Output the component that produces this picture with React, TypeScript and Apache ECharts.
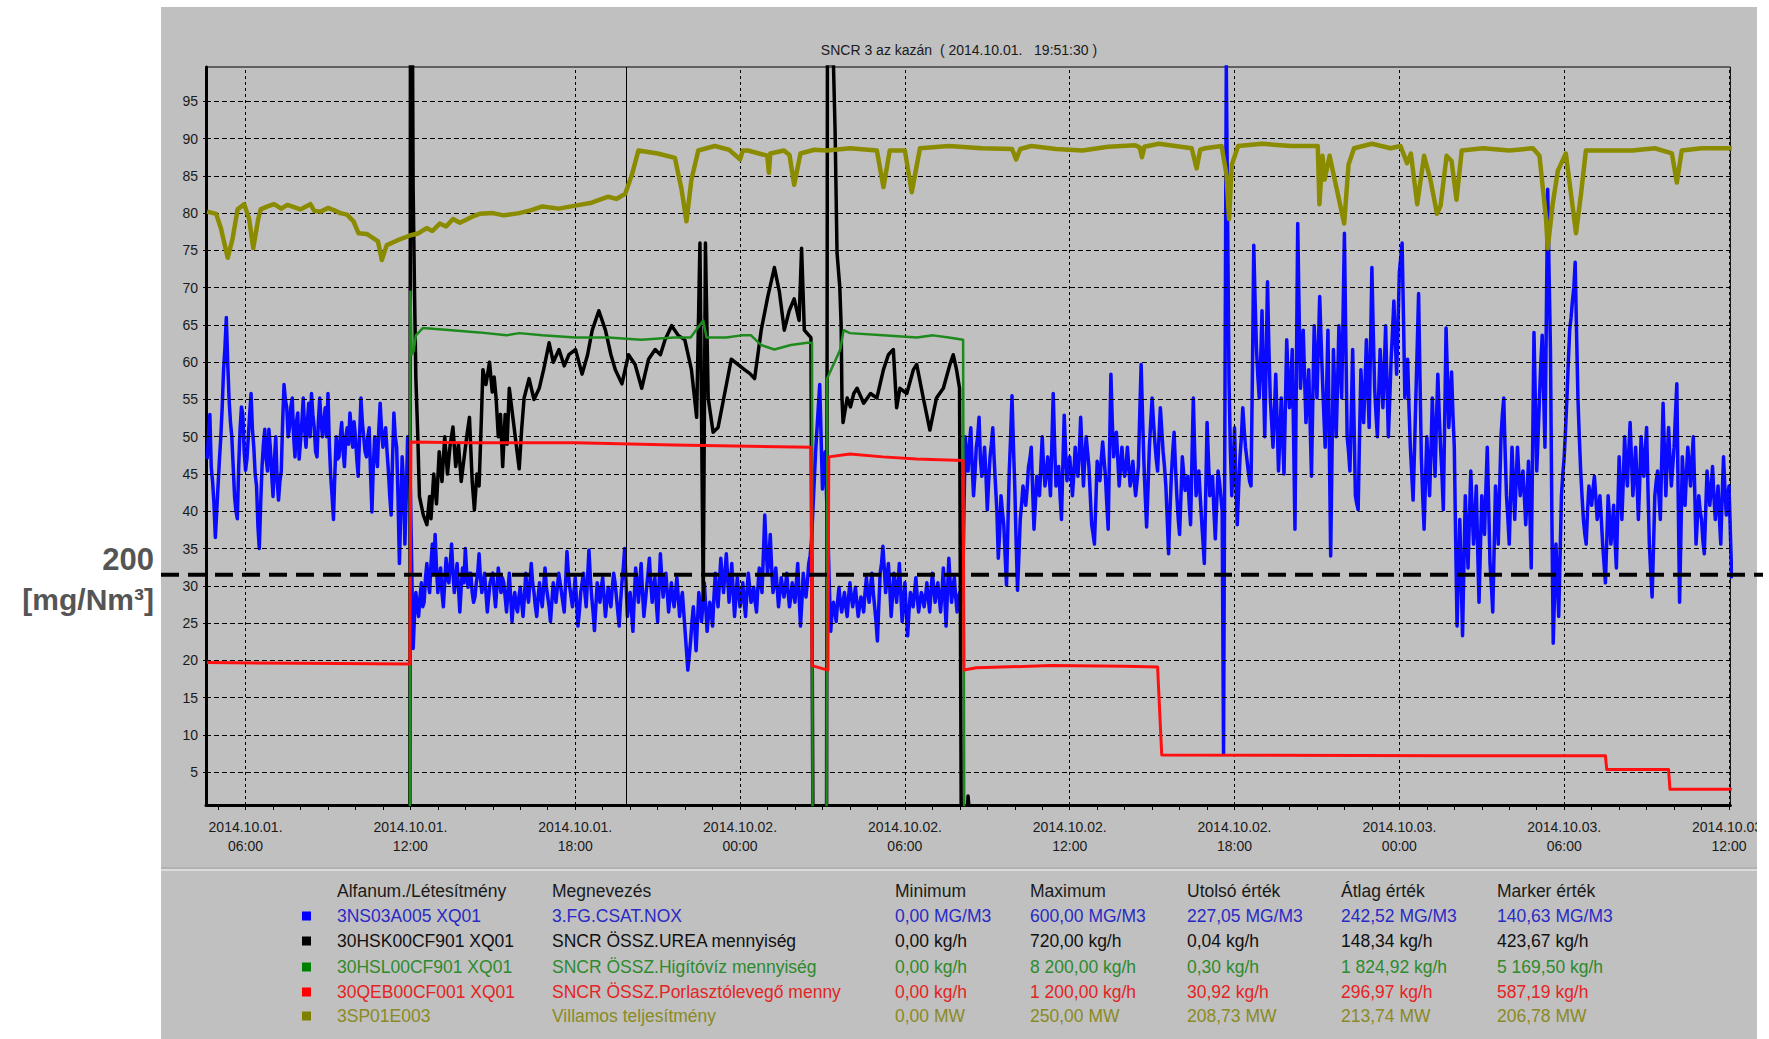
import React, { useEffect, useRef } from 'react';
import * as echarts from 'echarts';

// ---------- axis / layout constants ----------
const X_MIN = 4.56;
const X_MAX = 60.05;
const Y_MIN = 0.6;
const Y_MAX = 99.6;
const HOUR_TICKS = [5, 6, 7, 8, 9, 10, 11, 12, 13, 14, 15, 16, 17, 18, 19, 20, 21, 22, 23, 24, 25, 26, 27, 28, 29, 30, 31, 32, 33, 34, 35, 36, 37, 38, 39, 40, 41, 42, 43, 44, 45, 46, 47, 48, 49, 50, 51, 52, 53, 54, 55, 56, 57, 58, 59, 60];
const LABEL_HOURS = [6, 12, 18, 24, 30, 36, 42, 48, 54, 60];
const GRID_HOURS = [6, 12, 18, 24, 30, 36, 42, 48, 54, 60];
const Y_TICKS = [5, 10, 15, 20, 25, 30, 35, 40, 45, 50, 55, 60, 65, 70, 75, 80, 85, 90, 95];
const MARKER_HOUR = 19.858;
const LIMIT_VALUE = 31.5;
const TITLE = 'SNCR 3 az kazán  ( 2014.10.01.   19:51:30 )';

// ---------- blue series (NOX): readings every 0.1 h plus in-between readings ----------
const BLUE_STEP = 0.1;
const BLUE_A_START = 4.6;
const BLUE_A = [
  47, 53, 44, 36.5, 43.5, 50, 59, 66, 55, 50,
  42, 39, 51, 53, 45.5, 50, 55.8, 48.6, 43.4, 35,
  46, 51, 45.4, 48.6, 42, 50, 41.5, 45.4, 57, 53.9,
  51.2, 55.2, 47.3, 53.2, 49.3, 55.2, 48.6, 54.5, 55.8, 51.2,
  47.3, 55.2, 50, 53.9, 55.8, 44.7, 38.9, 50, 47.3, 51.9,
  46, 51.2, 53.2, 48.6, 50, 44.7, 55.2, 50, 47.3, 51.2,
  39.9, 50, 46, 54.5, 48.6, 51.2, 45.4, 39.5, 53.2, 48.6,
  33, 47.3, 35.6, 50, 43,
];
const BLUE_A_MID_START = 4.65;
const BLUE_A_MID = [
  50, 46, 41, 40, 47, 54, 62, 60, 52, 46,
  40, 46, 54, 48, 47, 53, 51, 45, 38, 41,
  49, 47, 51, 45, 47, 44, 44, 52, 55, 50,
  54, 50, 52, 47, 52, 51, 52, 50, 53, 48,
  52, 52, 52, 50, 49, 42, 45, 47, 50, 48,
  50, 49, 51, 52, 47, 50, 52, 48, 50, 45,
  46, 48, 51, 51, 50, 48, 42, 47, 50, 42,
  40, 44, 42, 47,
];
const BLUE_B_START = 12.1;
const BLUE_B = [
  21.6, 29.1, 25.9, 30.4, 27.8, 33, 29.1, 35.6, 36.9,
  29.1, 32.4, 27.2, 33.7, 30.4, 35.6, 29.1, 33, 26.5, 32.4,
  35, 29.8, 31.7, 27.8, 30.4, 34.3, 29.1, 31.7, 26.5, 30.4,
  31.7, 27.2, 32.4, 29.1, 30.4, 26.5, 31.7, 25.2, 29.1, 26.5,
  29.8, 25.9, 31.7, 27.8, 33, 29.1, 25.9, 30.4, 27.2, 32.4,
  28.5, 25.2, 30.4, 27.8, 31.7, 29.1, 26.5, 34.6, 29.8, 27.2,
  31.1, 24.6, 29.1, 31.7, 27.2, 34.8, 28.5, 24, 30.4, 27.8,
  31.1, 25.9, 29.8, 27.2, 31.7, 28.5, 24.6, 30.4, 35, 25.9,
  29.1, 23.9, 32.4, 27.8, 33, 25.9, 29.8, 33.7, 27.8, 31.1,
  25.2, 34.3, 28.5, 31.7, 26.5, 30.4, 27.2, 31.1, 25.9, 29.1,
  23.9, 18.7, 22.6, 27.2, 21.3, 29.1, 25.2, 30.4, 23.9, 27.8,
  24.6, 31.7, 27.2, 33.7, 29.1, 34.3, 27.8, 33, 25.9, 31.1,
  27.2, 30.4, 25.9, 31.7, 27.8, 29.8, 26.5, 32.4, 29.1, 39.5,
  31.7, 36.9, 29.1, 32.4, 27.2, 31.1, 28.5, 31.7, 27.2, 30.4,
  27.8, 33, 24.6, 31.7, 28.5, 33,
];
const BLUE_B_MID_START = 12.15;
const BLUE_B_MID = [
  26, 27.2, 28.5, 27.2, 31.1, 30.4, 33, 31.7, 32.4,
  31.1, 29.1, 30.4, 31.1, 33, 31.7, 31.1, 29.8, 29.8, 30.4,
  31.7, 31.7, 29.1, 28.5, 31.7, 31.1, 30.4, 29.1, 28.5, 31.1,
  29.1, 29.8, 30.4, 31.1, 28.5, 29.1, 28.5, 27.8, 27.2, 28.5,
  27.8, 28.5, 29.1, 30.4, 30.4, 27.2, 28.5, 28.5, 29.8, 29.8,
  27.2, 27.8, 29.1, 29.8, 30.4, 27.8, 30.4, 31.7, 28.5, 29.1,
  27.8, 26.5, 30.4, 29.1, 31.1, 31.1, 26.5, 27.2, 29.1, 29.8,
  28.5, 27.8, 28.5, 29.8, 30.4, 26.5, 27.8, 32.4, 30.4, 27.8,
  26.5, 28.5, 30.4, 30.4, 29.1, 27.8, 31.7, 30.4, 29.8, 27.8,
  29.8, 31.1, 30.4, 29.1, 28.5, 28.5, 29.1, 28.5, 27.8, 26.5,
  21.3, 20.6, 25.2, 24.6, 25.2, 27.2, 27.8, 27.2, 25.9, 26.5,
  28.5, 29.1, 30.4, 31.1, 31.7, 31.1, 30.4, 29.1, 28.5, 29.1,
  28.5, 27.8, 29.1, 29.8, 28.5, 27.8, 29.8, 30.4, 34.3, 35,
  33.7, 32.4, 30.4, 29.8, 29.1, 29.8, 29.8, 29.1, 28.5, 29.1,
  30.4, 28.5, 27.8, 29.8, 30.4, 34,
];
const BLUE_GAP_START = 26.6;
const BLUE_GAP = [36, 44, 51, 57, 43, 48, 37];
const BLUE_GAP_MID_START = 26.65;
const BLUE_GAP_MID = [40, 48, 54, 50, 46, 42, 30];
const BLUE_C_START = 27.3;
const BLUE_C = [
  23.9, 27.8, 25.2, 29.8, 26.5, 29.1, 25.9,
  30.4, 27.2, 29.8, 25.9, 28.5, 26.5, 31.1, 27.8, 31.7, 27.2,
  22.6, 31.7, 35.3, 29.1, 33, 25.9, 31.7, 27.8, 33, 25.2,
  30.4, 23.3, 29.1, 27.2, 31.1, 26.5, 29.1, 27.2, 30.4, 26.5,
  31.7, 27.8, 30.4, 26.5, 32.4, 24.6, 33.7, 27.8, 31.1, 26.5,
  29.1, 27.8,
];
const BLUE_C_MID_START = 27.35;
const BLUE_C_MID = [
  26.5, 26.5, 27.8, 27.8, 27.8, 27.2, 28.5,
  28.5, 28.5, 27.8, 27.2, 27.8, 29.1, 29.1, 29.8, 29.1, 25.2,
  27.2, 33, 32.4, 31.1, 29.8, 28.5, 29.8, 30.4, 29.1, 27.8,
  26.5, 26.5, 28.5, 29.1, 28.5, 27.8, 28.5, 28.5, 28.5, 29.1,
  29.8, 29.1, 28.5, 29.1, 28.5, 29.1, 30.4, 29.8, 28.5, 28.5,
  28.5, 40,
];
const BLUE_D_START = 32.2;
const BLUE_D = [
  50, 45.4, 51.2, 42.1, 48.6, 52.6, 44.7, 48.6,
  40.2, 47.3, 51.2, 43.4, 33.7, 42.1, 38.2, 30.1, 45.4, 55.5,
  43.4, 29.4, 38.9, 43.4, 40.8, 46, 48.6, 37.6, 44.7, 42.1,
  50, 43.4, 47.3, 42.1, 55.8, 43.4, 46, 38.9, 52.9, 44.1,
  47.3, 42.1, 48.6, 44.7, 52.6, 43.4, 50, 46, 38.2, 35.6,
  46.7, 44.1, 49.3, 44.7, 37.6, 58.4, 47.3, 50.6, 43.4, 48.6,
  44.7, 48.6, 43.4, 46.7, 42.1, 46, 59.7, 46.7, 37.9, 48.6,
  55.2, 49.3, 45.4, 53.9, 48, 43.4, 34.3, 44.7, 50.6, 42.1,
  36.9, 47.3, 42.8, 44.7, 38.2, 55.2, 42.1, 45.4, 38.9, 33,
  51.9, 42.1, 44.7, 36.3, 45.4, 42.1, 7.5, 100, 57.1,
];
const BLUE_D_MID_START = 32.25;
const BLUE_D_MID = [
  47, 49, 46, 45, 50, 47, 46,
  45, 44, 49, 47, 40, 37, 40, 34, 38, 50, 49,
  36, 34, 41, 42, 43, 47, 43, 41, 43, 46,
  46, 45, 45, 49, 49, 45, 42, 46, 48, 46,
  45, 45, 46, 48, 48, 47, 48, 42, 37, 41,
  45, 47, 47, 41, 48, 52, 49, 47, 46, 46,
  46, 46, 45, 44, 44, 53, 53, 42, 43, 52,
  52, 47, 50, 51, 46, 39, 40, 48, 46, 39,
  42, 45, 44, 41, 47, 48, 44, 42, 36, 42,
  47, 43, 40, 41, 44, 40,
];
const BLUE_E_START = 41.9;
const BLUE_E = [
  42.1,
  51.2, 38.2, 47.3, 53.9, 48.6, 45.4, 43.4, 75.7, 61.7, 55.2,
  66.9, 50, 70.8, 55.2, 48.6, 58.4, 45.4, 55.2, 45, 63,
  53.9, 61.7, 37.6, 78.6, 56.5, 64.3, 51.9, 59, 44.7, 64.9,
  55.2, 68.8, 57.8, 48.6, 64.3, 34, 61.7, 50, 64.9, 55.2,
  77.3, 50, 45.4, 61.7, 42.1, 40.2, 59, 51.9, 63, 51.25,
  72.7, 56.5, 50, 61.7, 53.9, 64.9, 50, 60.4, 68.2, 58.4,
  72.1, 76, 55.2, 60.4, 48.6, 41.5, 55.2, 69.2, 47.3, 37.6,
  50, 42.1, 55.2, 44.7, 58.4, 48.6, 40.2, 64.6, 51.25, 58.7,
  48.6, 24.6, 38.9, 23.3, 42.1, 32.4, 45.4, 35.6, 43.4, 27.8,
  42.1, 36.9, 48.6, 33, 26.5, 43.4, 35.6, 50, 55.2, 42.1,
  35.6, 48.6, 38.9, 48.6, 42.1, 45.4, 38.2, 46.7, 32.4, 64,
  45.4, 55.2, 63.6, 48.6, 83.2, 61.7, 22.3, 35.6, 25.9, 42.1,
  47.3, 55.2, 64.3, 68.2, 73.4, 55.2, 45.4, 38.9, 35.6, 43.4,
  40.8, 44.7, 38.9, 42.1, 35.6, 30.4, 42.1, 35.6, 40.8, 32.4,
  47.3, 38.9, 50, 43.4, 51.9, 42.1, 48.6, 38.9, 50, 44.7,
  51.25, 35.6, 28.5, 42.1, 45.4, 38.9, 54.5, 42.1, 51.25, 43.4,
  48.6, 57.1, 27.8, 47.3, 40.8, 48.6, 43.4, 50, 35.6, 42.1,
  38.9, 34.3, 45.4, 40.8, 46, 38.9, 43.4, 35.6, 47.3, 39.5,
  43.4, 31,
];
const BLUE_E_MID_START = 41.85;
const BLUE_E_MID = [
  48, 46,
  44, 43, 50, 51, 47, 44, 58, 68, 58, 60,
  58, 60, 62, 52, 53, 52, 50, 50, 54, 58,
  57, 50, 58, 67, 60, 58, 55, 52, 55, 60,
  62, 63, 53, 56, 49, 48, 56, 57, 60, 66,
  63, 48, 53, 52, 41, 50, 55, 57, 57, 62,
  64, 53, 56, 58, 59, 57, 55, 64, 63, 65,
  74, 66, 58, 54, 45, 48, 62, 58, 42, 44,
  46, 48, 50, 52, 53, 45, 52, 58, 55, 53,
  36, 32, 31, 33, 37, 39, 40, 39, 35, 35,
  39, 43, 41, 30, 35, 40, 43, 53, 48, 39,
  42, 44, 44, 45, 44, 42, 42, 40, 48, 55,
  50, 60, 56, 66, 72, 40, 29, 31, 34, 45,
  51, 60, 66, 70, 64, 50, 42, 37, 40, 42,
  43, 42, 40, 39, 33, 36, 39, 38, 36, 40,
  43, 44, 46, 48, 47, 45, 44, 44, 47, 48,
  43, 32, 35, 44, 42, 47, 48, 47, 47, 46,
  53, 42, 37, 44, 45, 46, 47, 43, 39, 40,
  36, 40, 43, 43, 42, 41, 39, 42, 43, 42,
  37,
];

// ---------- other series as [hour, value] ----------
const BLACK = [
  [4.6, 0], [11.98, 0], [12.0, 100], [12.08, 100], [12.1, 83.5], [12.15, 69.5], [12.2, 57.8], [12.27, 50],
  [12.33, 42], [12.47, 39.5], [12.6, 38.2], [12.7, 42], [12.75, 39], [12.85, 45], [12.95, 41], [13.05, 48],
  [13.15, 44], [13.25, 50], [13.35, 45], [13.45, 49], [13.55, 51.3], [13.65, 46], [13.75, 49], [13.85, 44],
  [13.95, 47], [14.05, 50], [14.15, 52.6], [14.25, 44], [14.33, 40.2], [14.42, 45], [14.5, 43.4], [14.58, 52],
  [14.64, 59], [14.75, 57], [14.88, 60], [14.98, 56], [15.05, 58], [15.12, 55.2], [15.2, 50], [15.28, 53],
  [15.36, 46], [15.45, 53], [15.52, 49], [15.6, 56.5], [15.75, 52], [15.96, 45.7], [16.05, 51], [16.14, 55.2],
  [16.32, 57.8], [16.5, 55], [16.69, 56.5], [16.85, 59], [17.05, 62.6], [17.2, 60], [17.41, 61.7], [17.6, 59.5],
  [17.77, 61], [18.01, 61.7], [18.25, 58.4], [18.45, 61], [18.62, 64.3], [18.86, 66.9], [19.1, 64.3], [19.3, 61],
  [19.46, 59], [19.7, 57.1], [19.94, 61], [20.18, 59.7], [20.42, 56.5], [20.67, 60.4], [20.91, 61.7], [21.1, 61],
  [21.27, 63], [21.51, 64.9], [21.75, 63.6], [21.99, 63], [22.23, 59], [22.42, 52.6], [22.54, 76], [22.66, 28.1],
  [22.74, 76], [22.84, 55.2], [23.02, 50.6], [23.2, 51.25], [23.44, 55.8], [23.68, 60.4], [23.92, 59.7],
  [24.16, 59], [24.35, 58.5], [24.53, 57.8], [24.77, 64.3], [25.01, 68.8], [25.25, 72.7], [25.43, 69.5],
  [25.61, 64.3], [25.79, 66.9], [25.97, 68.5], [26.15, 65.6], [26.24, 75.3], [26.34, 64.3], [26.58, 63.3],
  [26.65, 0], [27.15, 0], [27.18, 100], [27.4, 100], [27.46, 91], [27.53, 74.7], [27.63, 70.1], [27.68, 64.9],
  [27.71, 55.2], [27.75, 51.9], [27.9, 55.2], [28.02, 54], [28.14, 55.8], [28.26, 56.5], [28.5, 54.5],
  [28.75, 55.8], [28.98, 55.2], [29.22, 59], [29.4, 61], [29.58, 61.7], [29.7, 53.9], [29.82, 56.5],
  [30.07, 55.8], [30.31, 59], [30.43, 59.7], [30.67, 55.2], [30.91, 50.9], [31.15, 55.2], [31.4, 56.5],
  [31.64, 59.7], [31.76, 61], [31.88, 59], [31.99, 56.5], [32.05, 0], [32.28, 0], [32.3, 1.8], [32.34, 0],
  [60.1, 0],
];
const GREEN = [
  [4.6, 0], [11.98, 0], [12.0, 69.5], [12.05, 61], [12.12, 61.5], [12.2, 63.6], [12.46, 64.6], [13.5, 64.3],
  [14.5, 64], [15.5, 63.6], [15.96, 63.9], [16.8, 63.6], [18.0, 63.3], [19.2, 63.3], [20.4, 63], [21.6, 63.3],
  [22.2, 63.3], [22.66, 65.6], [22.78, 63.3], [23.5, 63.3], [24.04, 63.6], [24.4, 63.6], [24.77, 62.3],
  [25.25, 61.7], [25.85, 62.3], [26.45, 62.6], [26.62, 62.6], [26.64, 0], [27.15, 0], [27.17, 57.8],
  [27.65, 61.7], [27.77, 64.3], [28.0, 63.9], [29.2, 63.6], [30.43, 63.3], [31.03, 63.6], [31.6, 63.3],
  [32.12, 63], [32.16, 0], [60.1, 0],
];
const RED = [
  [4.6, 19.7], [8.0, 19.6], [11.98, 19.5], [12.02, 49.3], [14.0, 49.2], [18.0, 49.2], [21.6, 48.9],
  [26.58, 48.6], [26.62, 19.3], [27.0, 18.9], [27.2, 18.7], [27.23, 47.3], [28.0, 47.7], [29.2, 47.3],
  [30.43, 47], [32.12, 46.8], [32.15, 18.7], [32.6, 19], [35.3, 19.3], [38.0, 19.2], [39.2, 19.1],
  [39.35, 7.3], [49.6, 7.2], [55.5, 7.2], [55.55, 5.35], [57.8, 5.35], [57.85, 2.7], [60.1, 2.7],
];
const OLIVE = [
  [4.6, 80.2], [4.93, 79.9], [5.1, 78], [5.35, 74.0], [5.53, 76.6], [5.71, 80.5], [5.95, 81.2], [6.13, 79.2],
  [6.28, 75.3], [6.46, 79.2], [6.55, 80.5], [6.8, 80.9], [7.04, 81.2], [7.3, 80.6], [7.52, 81.1], [8.0, 80.5],
  [8.2, 80.9], [8.36, 81.2], [8.5, 80.3], [8.73, 80.2], [9.0, 80.7], [9.21, 80.4], [9.45, 80.0], [9.69, 79.8],
  [9.93, 78.9], [10.11, 77.3], [10.41, 77.2], [10.66, 76.6], [10.82, 76.2], [10.96, 73.7], [11.14, 75.7],
  [11.5, 76.3], [11.98, 77.0], [12.3, 77.3], [12.59, 78], [12.8, 77.6], [13.07, 78.6], [13.3, 78.2],
  [13.55, 79.2], [13.8, 78.7], [14.03, 79.1], [14.3, 79.6], [14.52, 79.9], [15.0, 80], [15.4, 79.7],
  [15.96, 80], [16.4, 80.4], [16.8, 80.9], [17.4, 80.6], [18.0, 81], [18.6, 81.4], [19.2, 82.2], [19.5, 81.9],
  [19.82, 82.6], [20.06, 85.1], [20.3, 88.4], [21.0, 88], [21.63, 87.4], [21.87, 83.2], [22.05, 78.9],
  [22.23, 84.5], [22.48, 88.4], [23.08, 89], [23.6, 88.5], [24.0, 87.2], [24.1, 88.4], [24.29, 88.4],
  [24.99, 87.7], [25.05, 85.4], [25.1, 88], [25.6, 88.4], [25.8, 87.8], [25.97, 83.8], [26.2, 88],
  [26.7, 88.5], [27.18, 88.4], [28.0, 88.7], [28.98, 88.4], [29.22, 83.5], [29.45, 88.4], [30.0, 88.4],
  [30.25, 82.8], [30.55, 88.7], [31.6, 89], [32.8, 88.7], [33.9, 88.6], [34.05, 87.2], [34.2, 88.6],
  [34.6, 89], [35.5, 88.6], [36.46, 88.4], [37.4, 88.9], [38.39, 89.1], [38.55, 88.8], [38.63, 87.5],
  [38.72, 88.9], [39.24, 89.3], [40.44, 88.7], [40.62, 86], [40.75, 88.5], [40.93, 88.7], [41.53, 89],
  [41.71, 85.1], [41.8, 79.2], [41.9, 86.5], [42.13, 89], [43.0, 89.3], [44.06, 89], [45.03, 89],
  [45.09, 81.2], [45.2, 87.7], [45.28, 84.5], [45.46, 87.7], [45.99, 78.6], [46.15, 86.5], [46.35, 88.7],
  [47.0, 89.3], [47.68, 88.7], [48.04, 89], [48.28, 86.7], [48.42, 88], [48.65, 81.2], [48.9, 87.7],
  [49.13, 84.5], [49.37, 79.9], [49.5, 81], [49.72, 87.7], [49.9, 87], [50.08, 81.8], [50.27, 88.4],
  [51.05, 88.7], [52.0, 88.4], [52.86, 88.7], [53.1, 87.7], [53.34, 79.2], [53.4, 75.3], [53.58, 81.2],
  [53.77, 85.7], [54.06, 88], [54.25, 82.5], [54.43, 77.3], [54.61, 82.5], [54.79, 88.4], [55.5, 88.4],
  [56.48, 88.4], [57.3, 88.7], [57.92, 88], [58.1, 84.1], [58.28, 88.4], [59.0, 88.7], [60.1, 88.7],
];

// ---------- legend table ----------
const LEGEND_HEADERS = ['Alfanum./Létesítmény', 'Megnevezés', 'Minimum', 'Maximum', 'Utolsó érték', 'Átlag érték', 'Marker érték'];
const LEGEND_IDS = ['3NS03A005 XQ01', '30HSK00CF901 XQ01', '30HSL00CF901 XQ01', '30QEB00CF001 XQ01', '3SP01E003'];
const LEGEND_NAMES = ['3.FG.CSAT.NOX', 'SNCR ÖSSZ.UREA mennyiség', 'SNCR ÖSSZ.Higítóvíz mennyiség', 'SNCR ÖSSZ.Porlasztólevegő menny', 'Villamos teljesítmény'];
const LEGEND_MIN = ['0,00 MG/M3', '0,00 kg/h', '0,00 kg/h', '0,00 kg/h', '0,00 MW'];
const LEGEND_MAX = ['600,00 MG/M3', '720,00 kg/h', '8 200,00 kg/h', '1 200,00 kg/h', '250,00 MW'];
const LEGEND_LAST = ['227,05 MG/M3', '0,04 kg/h', '0,30 kg/h', '30,92 kg/h', '208,73 MW'];
const LEGEND_AVG = ['242,52 MG/M3', '148,34 kg/h', '1 824,92 kg/h', '296,97 kg/h', '213,74 MW'];
const LEGEND_MARKER = ['140,63 MG/M3', '423,67 kg/h', '5 169,50 kg/h', '587,19 kg/h', '206,78 MW'];

const LINE_COLORS = ['#0a0aff', '#000000', '#1e8a1e', '#ff1010', '#8b8b00'];
const TEXT_COLORS = ['#2a2ac4', '#111111', '#2e8a2e', '#e42424', '#8a8a24'];
const SQUARE_COLORS = ['#0000ff', '#000000', '#008000', '#ff0000', '#808000'];

const FONT = "'Liberation Sans', Arial, sans-serif";
const W = 1769;
const H = 1039;
const PLOT_LEFT = 206;
const PLOT_RIGHT = 1742;
const PLOT_TOP = 67;
const PLOT_BOTTOM = 805;

function blueData(): number[][] {
  const segs: [number, number[]][] = [
    [BLUE_A_START, BLUE_A], [BLUE_A_MID_START, BLUE_A_MID],
    [BLUE_B_START, BLUE_B], [BLUE_B_MID_START, BLUE_B_MID],
    [BLUE_GAP_START, BLUE_GAP], [BLUE_GAP_MID_START, BLUE_GAP_MID],
    [BLUE_C_START, BLUE_C], [BLUE_C_MID_START, BLUE_C_MID],
    [BLUE_D_START, BLUE_D], [BLUE_D_MID_START, BLUE_D_MID],
    [BLUE_E_START, BLUE_E], [BLUE_E_MID_START, BLUE_E_MID],
  ];
  const out: number[][] = [];
  segs.forEach(([start, vals]) => {
    vals.forEach((v, i) => out.push([Math.round((start + i * BLUE_STEP) * 100) / 100, v]));
  });
  out.sort((a, b) => a[0] - b[0]);
  return out;
}

function labelFor(h: number): string {
  const day = Math.floor(h / 24) + 1;
  const hh = Math.round(h % 24);
  return `2014.10.0${day}.\n${String(hh).padStart(2, '0')}:00`;
}

function txt(x: number, y: number, text: string, fill: string, size: number, align = 'left', weight = 'normal', z = 50): any {
  return {
    type: 'text', x, y, z, silent: true,
    style: {
      text, fill, fontSize: size, fontFamily: FONT, fontWeight: weight,
      align, textAlign: align, verticalAlign: 'middle', textVerticalAlign: 'middle',
    },
  };
}

function buildGraphics(yLimit: number): any[] {
  const g: any[] = [];
  g.push({ type: 'rect', z: -10, silent: true, shape: { x: 161, y: 7, width: 1596, height: H - 7 }, style: { fill: '#c0c0c0' } });
  g.push({ type: 'line', z: 5, silent: true, shape: { x1: 161, y1: 868, x2: 1757, y2: 868 }, style: { stroke: '#a4a4a4', lineWidth: 1 } });
  g.push({ type: 'line', z: 5, silent: true, shape: { x1: 161, y1: 870, x2: 1757, y2: 870 }, style: { stroke: '#e4e4e4', lineWidth: 1.5 } });
  g.push(txt(959, 50, TITLE, '#1a1a1a', 14, 'center'));
  const cols = [337, 552, 895, 1030, 1187, 1341, 1497];
  const headerY = 891;
  LEGEND_HEADERS.forEach((hd, i) => g.push(txt(cols[i], headerY, hd, '#1a1a1a', 17.5)));
  const rowYs = [916, 941, 967, 992, 1016];
  rowYs.forEach((y, r) => {
    g.push({ type: 'rect', z: 50, silent: true, shape: { x: 302, y: y - 4.5, width: 9, height: 9 }, style: { fill: SQUARE_COLORS[r] } });
    const cells = [LEGEND_IDS[r], LEGEND_NAMES[r], LEGEND_MIN[r], LEGEND_MAX[r], LEGEND_LAST[r], LEGEND_AVG[r], LEGEND_MARKER[r]];
    cells.forEach((c, i) => g.push(txt(cols[i], y, c, TEXT_COLORS[r], 17.5)));
  });
  g.push({ type: 'rect', z: 90, silent: true, shape: { x: 1757, y: 0, width: W - 1757, height: H }, style: { fill: '#ffffff' } });
  g.push({ type: 'line', z: 100, silent: true, shape: { x1: 161, y1: yLimit, x2: 1763, y2: yLimit }, style: { stroke: '#000000', lineWidth: 4, lineDash: [18, 9] } });
  g.push(txt(154, yLimit - 15, '200', '#555555', 31, 'right', 'bold', 100));
  g.push(txt(154, yLimit + 25, '[mg/Nm³]', '#555555', 30, 'right', 'bold', 100));
  return g;
}

export default function App() {
  const ref = useRef<HTMLDivElement>(null);
  useEffect(() => {
    document.body.style.margin = '0';
    document.body.style.overflow = 'hidden';
    if (!ref.current) return;
    const chart = echarts.init(ref.current, null, { renderer: 'svg', width: W, height: H });
    const lineSeries = (name: string, data: number[][], color: string, width: number, z: number) => ({
      name, type: 'line', data, z, showSymbol: false, symbol: 'none', silent: true, animation: false,
      lineStyle: { color, width, join: 'round' }, clip: true,
    });
    const option: any = {
      animation: false,
      backgroundColor: '#ffffff',
      grid: {
        left: PLOT_LEFT, right: W - PLOT_RIGHT, top: PLOT_TOP, bottom: H - PLOT_BOTTOM,
        show: true, backgroundColor: '#c0c0c0', borderColor: '#000', borderWidth: 1,
      },
      xAxis: {
        type: 'value', min: X_MIN, max: X_MAX,
        axisLine: { show: true, onZero: false, lineStyle: { color: '#000', width: 3 } },
        axisTick: { show: true, customValues: HOUR_TICKS, length: 5, lineStyle: { color: '#000', width: 1 } },
        axisLabel: {
          customValues: LABEL_HOURS, formatter: (v: number) => labelFor(v),
          color: '#1a1a1a', fontSize: 14, fontFamily: FONT, lineHeight: 19, margin: 12,
          showMinLabel: true, showMaxLabel: true, hideOverlap: false,
        },
        splitLine: { show: false },
      },
      yAxis: {
        type: 'value', min: Y_MIN, max: Y_MAX,
        axisLine: { show: true, onZero: false, lineStyle: { color: '#000', width: 3 } },
        axisTick: { show: true, customValues: Y_TICKS, length: 3, lineStyle: { color: '#000' } },
        axisLabel: {
          customValues: Y_TICKS, formatter: (v: number) => String(v),
          color: '#1a1a1a', fontSize: 14, fontFamily: FONT, margin: 8,
        },
        splitLine: { show: false },
      },
      series: [
        {
          name: 'grid', type: 'line', data: [], z: 1, silent: true, animation: false,
          markLine: {
            silent: true, symbol: ['none', 'none'], label: { show: false }, animation: false,
            data: [
              ...Y_TICKS.map((v) => ({ yAxis: v, lineStyle: { color: '#000', width: 1, type: [5, 3] } })),
              ...GRID_HOURS.map((h) => ({ xAxis: h, lineStyle: { color: '#000', width: 1, type: [3, 3] } })),
              { xAxis: MARKER_HOUR, lineStyle: { color: '#000', width: 1, type: 'solid' } },
            ],
          },
        },
        lineSeries('3.FG.CSAT.NOX', blueData(), LINE_COLORS[0], 3.5, 3),
        lineSeries('SNCR ÖSSZ.UREA mennyiség', BLACK, LINE_COLORS[1], 3.5, 4),
        lineSeries('SNCR ÖSSZ.Higítóvíz mennyiség', GREEN, LINE_COLORS[2], 2.5, 5),
        lineSeries('SNCR ÖSSZ.Porlasztólevegő menny', RED, LINE_COLORS[3], 3, 6),
        lineSeries('Villamos teljesítmény', OLIVE, LINE_COLORS[4], 4.5, 7),
      ],
    };
    chart.setOption(option);
    const yLimit = chart.convertToPixel({ yAxisIndex: 0 }, LIMIT_VALUE) as number;
    chart.setOption({ graphic: { elements: buildGraphics(yLimit) } });
    return () => chart.dispose();
  }, []);
  return <div ref={ref} style={{ width: W, height: H }} />;
}
